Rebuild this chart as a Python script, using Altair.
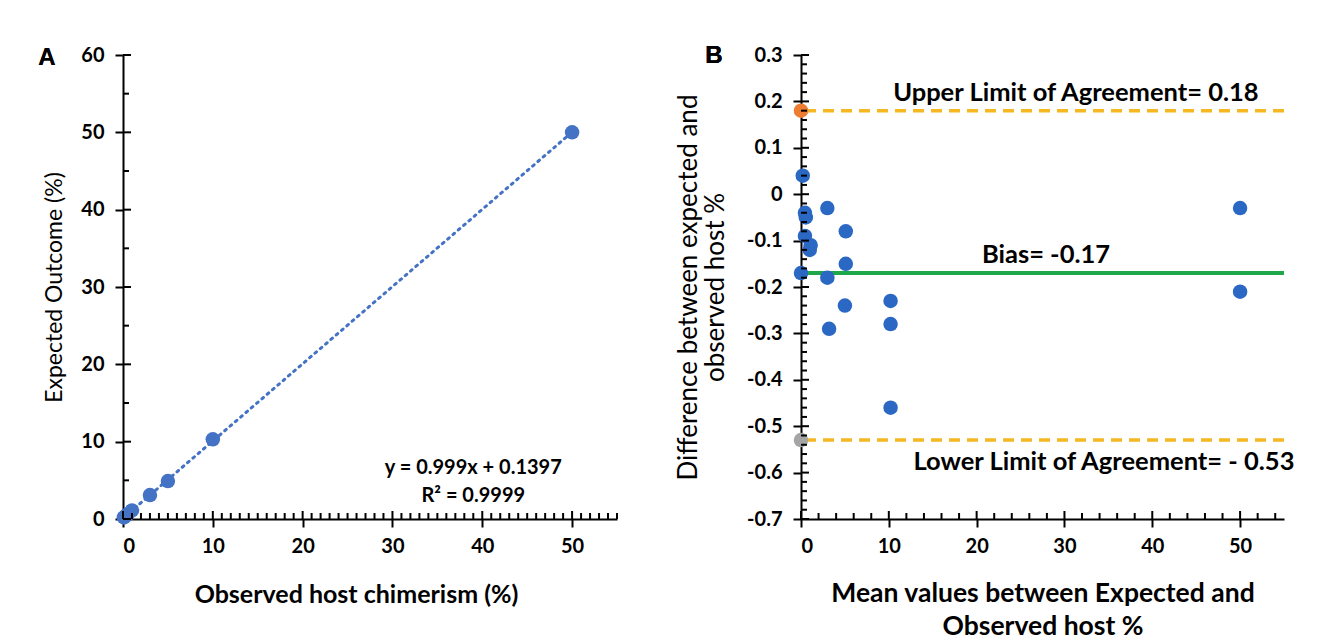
import altair as alt
import pandas as pd

# ---------------- data ----------------
A_observed = [0.1, 0.3, 0.5, 1.0, 3.0, 5.0, 10.0, 50.0]
A_expected = [0.2, 0.4, 0.6, 1.1, 3.1, 4.9, 10.3, 50.0]

B_mean = [0.2, 0.45, 0.55, 3.0, 5.1, 0.45, 1.1, 1.0, 5.1, 0.0, 3.0, 5.0, 10.2, 3.2, 10.2, 10.2, 50.0, 50.0]
B_diff = [0.04, -0.04, -0.05, -0.03, -0.08, -0.09, -0.11, -0.12, -0.15, -0.17, -0.18, -0.24, -0.23, -0.29, -0.28, -0.46, -0.03, -0.21]

upper_loa = 0.18
bias = -0.17
lower_loa = -0.53

A_x_major = [0, 10, 20, 30, 40, 50]
A_x_minor = [v for v in range(0, 56) if v % 10 != 0]
A_y_major = [0, 10, 20, 30, 40, 50, 60]
A_y_minor = [5, 15, 25, 35, 45, 55]

B_x_major = [0, 10, 20, 30, 40, 50]
B_x_minor = [v for v in range(0, 56, 2) if v % 10 != 0]
B_y_major = [0.3, 0.2, 0.1, 0.0, -0.1, -0.2, -0.3, -0.4, -0.5, -0.6, -0.7]
B_y_minor = [round(-0.7 + 0.02 * i, 2) for i in range(51) if (i % 5) != 0]

FONT = "Lato"
AW, AH = 494, 464
BW, BH = 483, 464
LABEL_EXPR = "replace(datum.label, '\u2212', '-')"

scA_x = alt.Scale(domain=[0, 55], nice=False, zero=False)
scA_y = alt.Scale(domain=[0, 60], nice=False)
scB_x = alt.Scale(domain=[0, 55], nice=False, zero=False)
scB_y = alt.Scale(domain=[-0.7, 0.3], nice=False, zero=False)

def xaxis(values, title, tsize, tpad, **kw):
    return alt.Axis(values=values, format="d", title=title, tickSize=8, tickWidth=2, tickColor="black",
                    domainColor="black", domainWidth=2, grid=False,
                    labelFont=FONT, labelFontSize=20, labelFontWeight="bold", labelColor="black",
                    labelPadding=9, titleFont=FONT, titleFontSize=tsize, titleFontWeight="bold",
                    titleColor="black", titlePadding=tpad, titleLineHeight=33, **kw)

def yaxis(values, title, fmt, tsize, tpad):
    return alt.Axis(values=values, format=fmt, title=title, tickSize=8, tickWidth=2, tickColor="black",
                    domainColor="black", domainWidth=2, grid=False, labelExpr=LABEL_EXPR,
                    labelFont=FONT, labelFontSize=20, labelFontWeight="bold", labelColor="black",
                    labelPadding=11, titleFont=FONT, titleFontSize=tsize, titleFontWeight="normal",
                    titleColor="black", titlePadding=tpad, titleLineHeight=27)

axA_x = xaxis(A_x_major, "Observed host chimerism (%)", 25, 26, titleX=233)
axA_y = yaxis(A_y_major, "Expected Outcome (%)", "d", 23, 14)
axB_x = xaxis(B_x_major, ["Mean values between Expected and", "Observed host %"], 26.5, 24)
axB_y = yaxis(B_y_major, ["Difference between expected and", "observed host %"], ".1~f", 26, 18)

def X(field, sc, ax):
    return alt.X(field, type="quantitative", scale=sc, axis=ax)

def Y(field, sc, ax):
    return alt.Y(field, type="quantitative", scale=sc, axis=ax)

def xticks(vals, sx, ax, height, length):
    d = pd.DataFrame({"v": vals})
    return alt.Chart(d).mark_rule(color="black", strokeWidth=2).encode(
        x=X("v", sx, ax), y=alt.value(height), y2=alt.value(height - length))

def yticks(vals, sy, ax, length):
    d = pd.DataFrame({"v": vals})
    return alt.Chart(d).mark_rule(color="black", strokeWidth=2).encode(
        y=Y("v", sy, ax), x=alt.value(0), x2=alt.value(length))

# ---------------- Panel A ----------------
dfA = pd.DataFrame({"obs": A_observed, "exp": A_expected})
ptsA = alt.Chart(dfA).mark_circle(size=210, color="#4472C4", opacity=1).encode(
    x=X("obs", scA_x, axA_x), y=Y("exp", scA_y, axA_y))
trendA = alt.Chart(dfA).transform_regression("obs", "exp").mark_line(
    color="#4472C4", strokeWidth=3, strokeDash=[2, 5], strokeCap="round").encode(
    x=X("obs", scA_x, axA_x), y=Y("exp", scA_y, axA_y))

dfTA = pd.DataFrame({"tx": [39, 39], "ty": [6.6, 3.0], "t": ["y = 0.999x + 0.1397", "R² = 0.9999"]})
eqA = alt.Chart(dfTA).mark_text(font=FONT, fontSize=20, fontWeight="bold", color="black").encode(
    x=X("tx", scA_x, axA_x), y=Y("ty", scA_y, axA_y), text="t:N")
labA = alt.Chart(dfTA).mark_text(text="A", font="Liberation Sans", fontSize=24, fontWeight="bold",
                                 color="black").encode(x=alt.value(-76), y=alt.value(3))

panelA = alt.layer(
    trendA, ptsA, eqA, labA,
    xticks(A_x_major, scA_x, axA_x, AH, 8), xticks(A_x_minor, scA_x, axA_x, AH, 6),
    yticks(A_y_major, scA_y, axA_y, 8), yticks(A_y_minor, scA_y, axA_y, 6),
).properties(width=AW, height=AH)

# ---------------- Panel B ----------------
dfB = pd.DataFrame({"mean": B_mean, "diff": B_diff})
ptsB = alt.Chart(dfB).mark_circle(size=210, color="#2B68C4", opacity=1).encode(
    x=X("mean", scB_x, axB_x), y=Y("diff", scB_y, axB_y))

dfL = pd.DataFrame({"x": [0, 0], "y": [upper_loa, lower_loa], "c": ["#ED7D31", "#A5A5A5"]})
loaLines = alt.Chart(dfL).mark_rule(color="#F5B722", strokeWidth=3.5, strokeDash=[11, 7]).encode(
    y=Y("y", scB_y, axB_y))
biasLine = alt.Chart(pd.DataFrame({"y": [bias]})).mark_rule(color="#1FA84A", strokeWidth=4).encode(
    y=Y("y", scB_y, axB_y))
loaPts = alt.Chart(dfL).mark_circle(size=210, opacity=1).encode(
    x=X("x", scB_x, axB_x), y=Y("y", scB_y, axB_y), color=alt.Color("c:N", scale=None))

dfTB = pd.DataFrame({
    "tx": [31.3, 27.9, 34.5],
    "ty": [0.218, -0.13, -0.578],
    "t": ["Upper Limit of Agreement= 0.18", "Bias= -0.17", "Lower Limit of Agreement= - 0.53"],
})
txtB = alt.Chart(dfTB).mark_text(font=FONT, fontSize=25.5, fontWeight="bold", color="black").encode(
    x=X("tx", scB_x, axB_x), y=Y("ty", scB_y, axB_y), text="t:N")
labB = alt.Chart(dfTB).mark_text(text="B", font="Liberation Sans", fontSize=24, fontWeight="bold",
                                 color="black").encode(x=alt.value(-87), y=alt.value(1))

panelB = alt.layer(
    loaLines, biasLine, ptsB, loaPts, txtB, labB,
    xticks(B_x_major, scB_x, axB_x, BH, 8), xticks(B_x_minor, scB_x, axB_x, BH, 6),
    yticks(B_y_major, scB_y, axB_y, 8), yticks(B_y_minor, scB_y, axB_y, 6),
).properties(width=BW, height=BH)

chart = alt.hconcat(panelA, panelB, spacing=57).properties(
    padding={"left": 38, "top": 44, "right": 10, "bottom": 5},
    background="white",
).configure_view(stroke=None)

chart.save("out.html", embed_options={"renderer": "svg", "actions": False})
